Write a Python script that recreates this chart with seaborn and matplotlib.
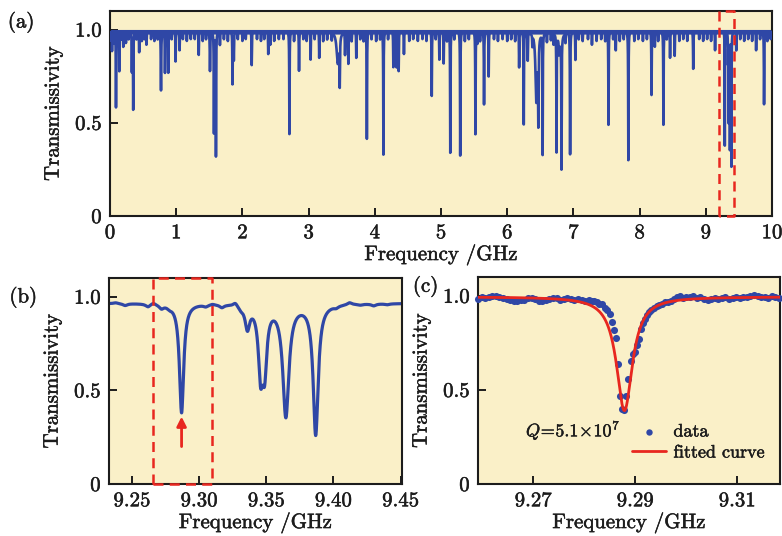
import numpy as np
import pandas as pd
import matplotlib
matplotlib.use("Agg")
import matplotlib.pyplot as plt
import matplotlib.patheffects as pe
from matplotlib.text import Text
import seaborn as sns

# ---------------- panel (a): transmission over the 0-10 GHz sweep ----------------
a_baseline = 0.99
a_noise_low = 0.976      # envelope of the unresolved baseline noise
a_noise_high = 1.001
# pronounced resonance dips: centre (GHz), minimum transmission, full width (GHz)
a_dip_freq = [0.03, 0.09, 0.14, 0.20, 0.33, 0.35, 0.44, 0.55, 0.77, 0.83, 0.88, 0.99,
              1.05, 1.34, 1.51, 1.57, 1.60, 1.66, 1.85, 1.87, 2.14, 2.39, 2.42, 2.71,
              2.855, 3.03, 3.16, 3.44, 3.47, 3.55, 3.60, 3.72, 3.88, 4.13, 4.28, 4.33,
              4.36, 4.44, 4.86, 4.975, 5.04, 5.14, 5.29, 5.52, 5.55, 5.65, 5.72, 6.18,
              6.25, 6.31, 6.44, 6.47, 6.535, 6.745, 6.80, 6.82, 6.95, 7.03, 7.28, 7.53,
              7.64, 7.83, 8.18, 8.23, 8.36, 8.46, 8.53, 8.81, 9.14, 9.287, 9.336, 9.3458,
              9.3488, 9.3646, 9.3868, 9.46, 9.76, 9.88]
a_dip_min = [0.89, 0.585, 0.78, 0.91, 0.78, 0.575, 0.88, 0.92, 0.675, 0.77, 0.77, 0.83,
             0.89, 0.865, 0.78, 0.45, 0.325, 0.92, 0.71, 0.84, 0.81, 0.87, 0.92, 0.44,
             0.78, 0.84, 0.85, 0.82, 0.74, 0.87, 0.82, 0.85, 0.415, 0.33, 0.80, 0.80,
             0.78, 0.87, 0.645, 0.84, 0.82, 0.34, 0.325, 0.44, 0.93, 0.60, 0.75, 0.80,
             0.495, 0.84, 0.62, 0.55, 0.34, 0.36, 0.92, 0.30, 0.335, 0.84, 0.92, 0.49,
             0.89, 0.30, 0.65, 0.91, 0.49, 0.85, 0.86, 0.79, 0.89, 0.38, 0.84, 0.63,
             0.65, 0.37, 0.27, 0.89, 0.89, 0.60]
a_dip_fwhm = [0.006, 0.006, 0.006, 0.006, 0.006, 0.006, 0.006, 0.006, 0.008, 0.006, 0.006, 0.006,
              0.006, 0.006, 0.008, 0.006, 0.006, 0.006, 0.006, 0.006, 0.006, 0.006, 0.006, 0.006,
              0.006, 0.006, 0.006, 0.040, 0.008, 0.006, 0.006, 0.006, 0.006, 0.006, 0.006, 0.006,
              0.006, 0.006, 0.006, 0.006, 0.006, 0.006, 0.006, 0.006, 0.006, 0.006, 0.006, 0.006,
              0.006, 0.006, 0.030, 0.010, 0.006, 0.006, 0.060, 0.006, 0.006, 0.006, 0.006, 0.006,
              0.006, 0.006, 0.006, 0.006, 0.006, 0.006, 0.006, 0.006, 0.006, 0.0038, 0.004, 0.004,
              0.004, 0.0055, 0.0045, 0.006, 0.006, 0.006]
# weak modes that roughen the baseline
a_minor_freq = [0.02, 0.06, 0.12, 0.18, 0.24, 0.28, 0.40, 0.48, 0.52, 0.62, 0.67, 0.72,
                0.93, 1.10, 1.16, 1.22, 1.28, 1.40, 1.45, 1.72, 1.78, 1.93, 2.00, 2.05,
                2.22, 2.28, 2.33, 2.48, 2.55, 2.62, 2.78, 2.92, 2.97, 3.09, 3.22, 3.28,
                3.35, 3.65, 3.78, 3.83, 3.95, 4.02, 4.08, 4.20, 4.52, 4.58, 4.65, 4.72,
                4.78, 4.92, 5.09, 5.20, 5.36, 5.42, 5.59, 5.80, 5.86, 5.93, 6.00, 6.06,
                6.12, 6.38, 6.60, 6.66, 6.70, 6.78, 6.88, 7.08, 7.14, 7.22, 7.35, 7.42,
                7.48, 7.60, 7.70, 7.76, 7.92, 7.98, 8.05, 8.11, 8.28, 8.41, 8.60, 8.66,
                8.72, 8.90, 8.96, 9.02, 9.08, 9.52, 9.58, 9.64, 9.70, 9.82, 9.93, 9.98]
a_minor_min = [0.95, 0.93, 0.94, 0.95, 0.93, 0.95, 0.95, 0.94, 0.95, 0.95, 0.94, 0.95,
               0.95, 0.95, 0.94, 0.95, 0.95, 0.94, 0.95, 0.95, 0.94, 0.95, 0.94, 0.95,
               0.95, 0.94, 0.95, 0.94, 0.95, 0.95, 0.94, 0.95, 0.94, 0.95, 0.94, 0.95,
               0.95, 0.94, 0.95, 0.94, 0.95, 0.94, 0.95, 0.95, 0.94, 0.95, 0.94, 0.95,
               0.94, 0.95, 0.94, 0.95, 0.94, 0.95, 0.94, 0.95, 0.94, 0.95, 0.94, 0.95,
               0.94, 0.93, 0.94, 0.95, 0.93, 0.92, 0.94, 0.95, 0.94, 0.95, 0.94, 0.95,
               0.94, 0.95, 0.94, 0.95, 0.94, 0.95, 0.94, 0.95, 0.94, 0.95, 0.94, 0.95,
               0.94, 0.95, 0.94, 0.95, 0.94, 0.95, 0.94, 0.95, 0.94, 0.95, 0.94, 0.95]
a_minor_fwhm = 0.006
a_box = (9.204, 9.43)

# ---------------- panel (b): zoom on 9.23-9.45 GHz ----------------
b_baseline = 0.965
b_dip_freq = [9.2870, 9.3360, 9.3458, 9.3488, 9.3646, 9.3868]
b_dip_min = [0.383, 0.845, 0.63, 0.65, 0.37, 0.27]
b_dip_fwhm = [0.0038, 0.0040, 0.0040, 0.0040, 0.0055, 0.0045]
# small baseline wiggles (negative depth = bump)
b_ripple_freq = [9.2380, 9.2450, 9.2620, 9.2660, 9.2720, 9.2780, 9.3050, 9.3100,
                 9.3170, 9.3270, 9.3310, 9.4020, 9.4120, 9.4200, 9.4300, 9.4400]
b_ripple_depth = [-0.005, 0.010, 0.015, -0.010, 0.020, 0.012, 0.010, -0.005,
                  0.015, -0.020, 0.015, 0.010, -0.012, 0.005, 0.010, 0.005]
b_ripple_fwhm = 0.004
b_box = (9.2656, 9.3093)
b_arrow_freq = 9.2870

# ---------------- panel (c): single resonance with Lorentzian fit ----------------
c_freq = [9.2592, 9.2599, 9.2606, 9.2613, 9.2620, 9.2627, 9.2634, 9.2641,
          9.2648, 9.2655, 9.2662, 9.2669, 9.2676, 9.2683, 9.2690, 9.2697,
          9.2704, 9.2711, 9.2718, 9.2725, 9.2732, 9.2739, 9.2746, 9.2753,
          9.2760, 9.2767, 9.2774, 9.2781, 9.2788, 9.2795, 9.2802, 9.2809,
          9.2815, 9.2820, 9.2825, 9.2830, 9.2835, 9.2840, 9.2845, 9.2850,
          9.2855, 9.2859, 9.2863, 9.2867, 9.2871, 9.2875, 9.2879, 9.2883,
          9.2887, 9.2891, 9.2895, 9.2899, 9.2903, 9.2907, 9.2911, 9.2915,
          9.2919, 9.2923, 9.2927, 9.2932, 9.2937, 9.2942, 9.2947, 9.2952,
          9.2958, 9.2964, 9.2970, 9.2976, 9.2982, 9.2988, 9.2994, 9.3000,
          9.3007, 9.3014, 9.3021, 9.3028, 9.3035, 9.3042, 9.3049, 9.3056,
          9.3063, 9.3070, 9.3077, 9.3084, 9.3091, 9.3098, 9.3105, 9.3112,
          9.3119, 9.3126, 9.3133, 9.3140, 9.3147, 9.3154, 9.3161, 9.3168,
          9.3175, 9.3182]
c_trans = [0.985, 0.992, 0.990, 0.996, 1.000, 0.998, 0.993, 0.988,
           0.985, 0.978, 0.975, 0.970, 0.976, 0.980, 0.986, 0.990,
           0.982, 0.975, 0.970, 0.978, 0.985, 0.990, 0.987, 0.980,
           0.984, 0.990, 0.982, 0.976, 0.983, 0.978, 0.972, 0.980,
           0.975, 0.970, 0.965, 0.958, 0.955, 0.935, 0.925, 0.905,
           0.860, 0.820, 0.775, 0.636, 0.466, 0.398, 0.395, 0.470,
           0.560, 0.654, 0.690, 0.700, 0.740, 0.770, 0.824, 0.855,
           0.878, 0.896, 0.915, 0.925, 0.935, 0.945, 0.950, 0.958,
           0.965, 0.968, 0.975, 0.985, 0.995, 1.000, 0.990, 0.995,
           0.992, 0.998, 0.990, 0.995, 0.985, 0.978, 0.985, 0.990,
           0.982, 0.988, 0.992, 0.985, 0.990, 0.995, 0.990, 0.996,
           0.992, 1.000, 1.005, 0.998, 0.992, 0.995, 0.990, 0.998,
           0.993, 0.990]
q_factor = 5.1e7
optical_carrier_ghz = 193.4e3        # 1550 nm carrier
fit_center = 9.2879
fit_base = 0.995
fit_min = 0.39

# ---------------- styling ----------------
BLUE = "#2F47A6"
RED = "#E8271F"
FACE = "#FAF0C8"
INK = "#1c1c1c"

sns.set_theme(style="ticks")
plt.rcParams["font.family"] = ["cmr10", "DejaVu Serif"]
plt.rcParams["mathtext.fontset"] = "cm"
plt.rcParams["axes.formatter.use_mathtext"] = True
plt.rcParams["axes.unicode_minus"] = False


def lorentz_sum(f, base, centers, depths, fwhms):
    t = np.full_like(f, base, dtype=float)
    for c, d, w in zip(centers, depths, fwhms):
        t -= d / (1.0 + ((f - c) / (w / 2.0)) ** 2)
    return t


def style_axes(ax, xlim, xticks, xticklabels):
    ax.set_facecolor(FACE)
    ax.set_xlim(*xlim)
    ax.set_ylim(0, 1.1)
    ax.set_xticks(xticks)
    ax.set_xticklabels(xticklabels)
    ax.set_yticks([0, 0.5, 1.0])
    ax.set_yticklabels(["0", "0.5", "1.0"])
    ax.tick_params(direction="in", length=5.5, width=1.4, labelsize=15,
                   pad=6, colors=INK)
    for sp in ax.spines.values():
        sp.set_visible(True)
        sp.set_linewidth(1.5)
        sp.set_color(INK)
    ax.set_xlabel("Frequency /GHz", fontsize=15, labelpad=2, color=INK)
    ax.set_ylabel("Transmissivity", fontsize=15, labelpad=9, color=INK)


def dashed_box(ax, x0, x1):
    ax.plot([x0, x0, x1, x1, x0], [0, 1.1, 1.1, 0, 0], color=RED, lw=1.8,
            ls=(0, (4, 2.5)), clip_on=False, zorder=6)


fig = plt.figure(figsize=(7.82, 5.36), dpi=100)
ax_a = fig.add_axes([0.1407, 0.597, 0.8465, 0.3825])
ax_b = fig.add_axes([0.1394, 0.097, 0.3746, 0.3843])
ax_c = fig.add_axes([0.6113, 0.097, 0.3861, 0.3862])

# (a)
f_a = np.linspace(0.0, 10.0, 20001)
depth_a = [a_baseline - m for m in a_dip_min] + [a_baseline - m for m in a_minor_min]
t_a = lorentz_sum(f_a, a_baseline, a_dip_freq + a_minor_freq, depth_a,
                  a_dip_fwhm + [a_minor_fwhm] * len(a_minor_freq))
ax_a.fill_between(f_a, a_noise_low, a_noise_high, color=BLUE, lw=0, zorder=2)
sns.lineplot(x=f_a, y=t_a, ax=ax_a, color=BLUE, linewidth=1.9,
             estimator=None, sort=False, zorder=3)
style_axes(ax_a, (0, 10), list(range(11)), [str(i) for i in range(11)])
dashed_box(ax_a, *a_box)

# (b)
f_b = np.linspace(9.233, 9.451, 3000)
t_b = lorentz_sum(f_b, b_baseline, b_dip_freq + b_ripple_freq,
                  [b_baseline - m for m in b_dip_min] + b_ripple_depth,
                  b_dip_fwhm + [b_ripple_fwhm] * len(b_ripple_freq))
sns.lineplot(x=f_b, y=t_b, ax=ax_b, color=BLUE, linewidth=2.3,
             estimator=None, sort=False)
style_axes(ax_b, (9.233, 9.451), [9.25, 9.30, 9.35, 9.40, 9.45],
           ["9.25", "9.30", "9.35", "9.40", "9.45"])
dashed_box(ax_b, *b_box)
ax_b.annotate("", xy=(b_arrow_freq, 0.36), xytext=(b_arrow_freq, 0.20),
              arrowprops=dict(arrowstyle="-|>", color=RED, lw=2.0,
                              mutation_scale=14, shrinkA=0, shrinkB=0))

# (c)
fwhm_fit = optical_carrier_ghz / q_factor
f_fit = np.linspace(9.259, 9.3184, 1500)
t_fit = lorentz_sum(f_fit, fit_base, [fit_center], [fit_base - fit_min], [fwhm_fit])
sns.scatterplot(x=c_freq, y=c_trans, ax=ax_c, color=BLUE, s=26, linewidth=0,
                label="data", clip_on=False, zorder=3)
sns.lineplot(x=f_fit, y=t_fit, ax=ax_c, color=RED, linewidth=2.0,
             estimator=None, sort=False, label="fitted curve", zorder=4)
style_axes(ax_c, (9.2592, 9.3184), [9.27, 9.29, 9.31], ["9.27", "9.29", "9.31"])
ax_c.text(9.2686, 0.285, r"$Q\!=\!5.1\!\times\!10^{7}$", fontsize=13,
          ha="left", va="center", color=INK)
handles, labels = ax_c.get_legend_handles_labels()
leg = ax_c.legend(handles, labels, loc="lower right", bbox_to_anchor=(0.98, 0.07),
                  frameon=False, fontsize=13, handlelength=1.9, handletextpad=0.4,
                  labelspacing=0.3, borderpad=0, markerscale=0.9)
for t in leg.get_texts():
    t.set_color(INK)

# panel tags
fig.text(0.010, 0.958, "(a)", fontsize=15, ha="left", va="center", color=INK)
fig.text(0.012, 0.445, "(b)", fontsize=15, ha="left", va="center", color=INK)
fig.text(0.528, 0.465, "(c)", fontsize=15, ha="left", va="center", color=INK)

# slightly heavier strokes for all lettering
for txt in fig.findobj(Text):
    if txt.get_text():
        txt.set_path_effects([pe.withStroke(linewidth=0.35, foreground=INK)])

fig.savefig("out.png", dpi=100, facecolor="white")
